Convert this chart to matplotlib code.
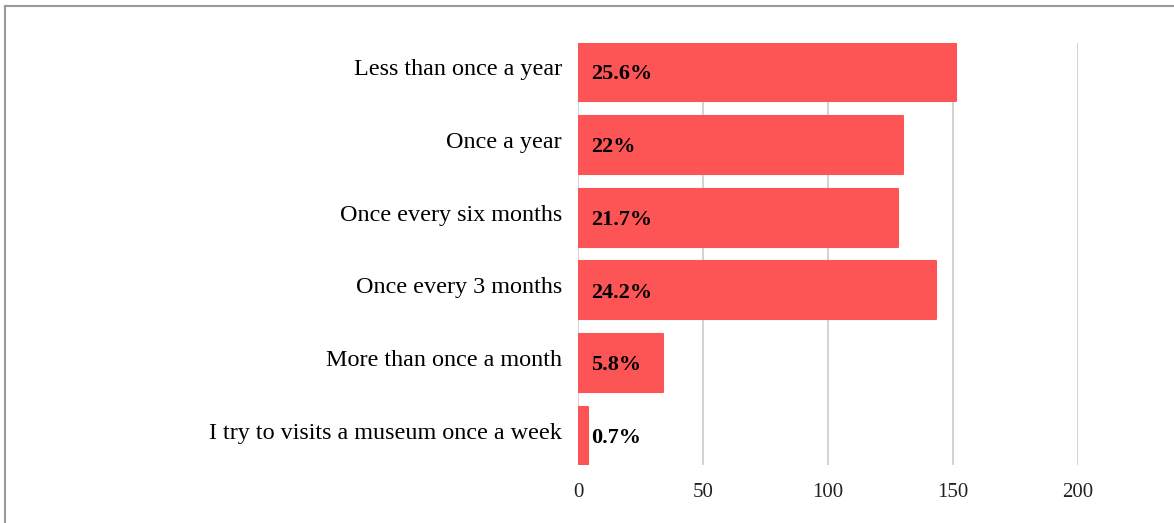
import matplotlib
matplotlib.use("Agg")
import matplotlib.pyplot as plt
from matplotlib.lines import Line2D
from matplotlib.transforms import ScaledTranslation

categories = [
    "Less than once a year",
    "Once a year",
    "Once every six months",
    "Once every 3 months",
    "More than once a month",
    "I try to visits a museum once a week",
]
counts = [151, 130, 128, 143, 34, 4]
pct_labels = ["25.6%", "22%", "21.7%", "24.2%", "5.8%", "0.7%"]
x_ticks = [0, 50, 100, 150, 200]

plt.rcParams['font.family'] = ['Liberation Serif', 'DejaVu Serif']

W, H = 1174, 523
fig = plt.figure(figsize=(W / 100, H / 100), dpi=100)
ax = fig.add_axes([578 / W, 1 - 465 / H, 500 / W, 422 / H])

bar_color = "#fd5555"
y = range(len(categories))
ax.barh(y, counts, height=0.8, color=bar_color, edgecolor=bar_color,
        linewidth=1.5, joinstyle="round", zorder=3)

for i, lab in enumerate(pct_labels):
    ax.text(5.4, i + 0.03, lab, ha="left", va="center", fontsize=16,
            fontweight="bold", color="black", zorder=4)

ax.set_xlim(0, 200)
ax.set_ylim(len(categories) - 0.6, -0.4)
ax.set_xticks(x_ticks)
ax.set_yticks(list(y))
ax.set_yticklabels(categories, fontsize=17.4)
ax.tick_params(axis="y", length=0, pad=11.5)
ax.tick_params(axis="x", length=0, pad=13, labelsize=15, labelcolor="#222222")
shift = ScaledTranslation(0, 5 / 100, fig.dpi_scale_trans)
for lbl in ax.get_yticklabels():
    lbl.set_transform(lbl.get_transform() + shift)
ax.xaxis.grid(True, color="#cccccc", linewidth=1.2, zorder=0)
for s in ax.spines.values():
    s.set_visible(False)

# thin grey frame around the figure (top and left)
fig.add_artist(Line2D([5 / W, 1], [1 - 6 / H, 1 - 6 / H], color="#999999",
                      linewidth=1.5, transform=fig.transFigure))
fig.add_artist(Line2D([5 / W, 5 / W], [0, 1 - 6 / H], color="#999999",
                      linewidth=1.5, transform=fig.transFigure))

fig.savefig("out.png", dpi=100)
